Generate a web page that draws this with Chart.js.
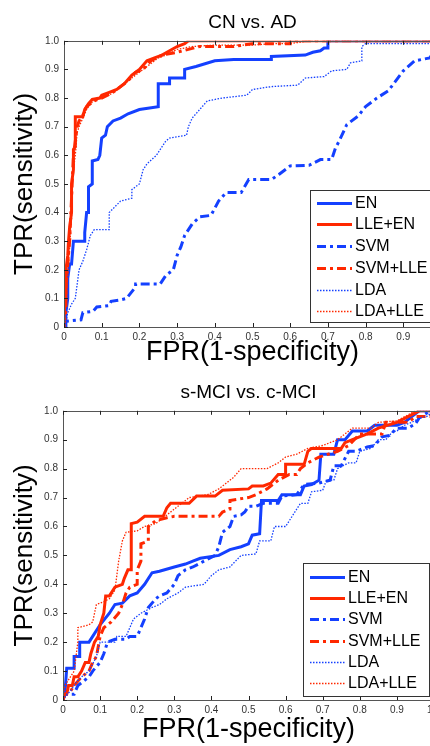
<!DOCTYPE html>
<html>
<head>
<meta charset="utf-8">
<script src="https://cdn.jsdelivr.net/npm/chart.js@4.4.1/dist/chart.umd.min.js"></script>
<style>
  html, body { margin: 0; padding: 0; background: #fff; overflow: hidden; }
  #wrap { position: relative; width: 430px; height: 746px; overflow: hidden; background: #fff; }
  .box { position: absolute; left: 0; }
  #b1 { top: 0; width: 442px; height: 370px; }
  #b2 { top: 370px; width: 435px; height: 376px; }
</style>
</head>
<body>
<div id="wrap">
  <div class="box" id="b1"><canvas id="c1" width="442" height="370"></canvas></div>
  <div class="box" id="b2"><canvas id="c2" width="435" height="376"></canvas></div>
</div>
<script>
// ---- data: ROC points [FPR, TPR] ----
const labels = ['EN', 'LLE+EN', 'SVM', 'SVM+LLE', 'LDA', 'LDA+LLE'];
const xTicks = [0, 0.1, 0.2, 0.3, 0.4, 0.5, 0.6, 0.7, 0.8, 0.9, 1];
const yTicks = [0, 0.1, 0.2, 0.3, 0.4, 0.5, 0.6, 0.7, 0.8, 0.9, 1];

// CN vs. AD
const adEN = [[0,0],[0.005,0],[0.005,0.05],[0.01,0.1],[0.01,0.17],[0.015,0.22],[0.02,0.22],[0.025,0.3],[0.055,0.3],[0.055,0.33],[0.06,0.4],[0.065,0.4],[0.065,0.49],[0.075,0.5],[0.075,0.58],[0.09,0.585],[0.095,0.6],[0.1,0.66],[0.11,0.67],[0.115,0.7],[0.13,0.72],[0.15,0.73],[0.17,0.745],[0.2,0.76],[0.25,0.77],[0.25,0.85],[0.28,0.85],[0.28,0.87],[0.32,0.87],[0.32,0.9],[0.35,0.91],[0.4,0.93],[0.45,0.935],[0.55,0.935],[0.55,0.945],[0.64,0.95],[0.66,0.96],[0.68,0.965],[0.69,0.975],[0.7,0.975],[0.7,1],[1,1]];
const adLLE = [[0,0],[0,0.05],[0.005,0.1],[0.005,0.2],[0.01,0.25],[0.012,0.3],[0.015,0.35],[0.02,0.4],[0.02,0.5],[0.025,0.55],[0.025,0.62],[0.03,0.63],[0.03,0.735],[0.05,0.735],[0.055,0.76],[0.065,0.78],[0.075,0.795],[0.095,0.8],[0.1,0.81],[0.12,0.82],[0.14,0.83],[0.16,0.85],[0.18,0.88],[0.2,0.9],[0.22,0.93],[0.24,0.94],[0.26,0.95],[0.28,0.965],[0.3,0.98],[0.32,0.99],[0.33,1],[1,1]];
const adSVM = [[0,0],[0.005,0.02],[0.045,0.025],[0.05,0.05],[0.077,0.055],[0.087,0.07],[0.12,0.075],[0.125,0.09],[0.15,0.095],[0.166,0.1],[0.19,0.14],[0.19,0.15],[0.255,0.15],[0.27,0.18],[0.29,0.2],[0.3,0.25],[0.31,0.28],[0.32,0.32],[0.34,0.36],[0.36,0.385],[0.39,0.39],[0.41,0.44],[0.43,0.47],[0.47,0.47],[0.49,0.515],[0.55,0.515],[0.57,0.533],[0.6,0.563],[0.65,0.565],[0.68,0.585],[0.71,0.585],[0.72,0.625],[0.73,0.65],[0.75,0.707],[0.78,0.737],[0.8,0.77],[0.83,0.8],[0.86,0.825],[0.88,0.86],[0.9,0.895],[0.93,0.93],[0.97,0.94],[1,1]];
const adSVMLLE = [[0,0],[0.005,0.06],[0.005,0.15],[0.01,0.22],[0.015,0.3],[0.02,0.45],[0.025,0.6],[0.03,0.65],[0.035,0.7],[0.04,0.72],[0.05,0.74],[0.06,0.77],[0.08,0.79],[0.1,0.8],[0.13,0.82],[0.15,0.84],[0.17,0.86],[0.19,0.89],[0.21,0.9],[0.23,0.93],[0.26,0.95],[0.3,0.96],[0.33,0.97],[0.36,0.98],[0.45,0.98],[0.5,0.99],[0.6,0.99],[0.6,1],[1,1]];
const adLDA = [[0,0],[0.005,0.02],[0.01,0.05],[0.02,0.08],[0.03,0.1],[0.035,0.15],[0.04,0.2],[0.05,0.23],[0.06,0.27],[0.07,0.32],[0.08,0.34],[0.12,0.34],[0.12,0.4],[0.15,0.44],[0.18,0.45],[0.18,0.48],[0.2,0.5],[0.21,0.55],[0.22,0.57],[0.245,0.6],[0.27,0.65],[0.28,0.66],[0.325,0.67],[0.33,0.7],[0.34,0.73],[0.36,0.76],[0.38,0.79],[0.42,0.8],[0.485,0.81],[0.5,0.83],[0.55,0.84],[0.62,0.845],[0.64,0.87],[0.69,0.875],[0.71,0.895],[0.75,0.9],[0.76,0.923],[0.79,0.93],[0.79,0.98],[0.8,0.99],[0.98,0.99],[1,1]];
const adLDALLE = [[0,0],[0.005,0.08],[0.01,0.18],[0.015,0.28],[0.02,0.38],[0.02,0.5],[0.03,0.6],[0.035,0.68],[0.04,0.7],[0.05,0.73],[0.06,0.76],[0.07,0.78],[0.09,0.8],[0.12,0.81],[0.15,0.84],[0.18,0.87],[0.2,0.89],[0.23,0.92],[0.25,0.94],[0.27,0.95],[0.3,0.97],[0.34,0.98],[0.4,0.985],[0.5,0.985],[0.55,0.99],[0.6,0.99],[0.65,1],[1,1]];

// s-MCI vs. c-MCI
const mciEN = [[0,0],[0.005,0.02],[0.01,0.11],[0.03,0.11],[0.03,0.15],[0.045,0.15],[0.045,0.2],[0.07,0.2],[0.08,0.22],[0.1,0.26],[0.125,0.3],[0.14,0.33],[0.16,0.335],[0.18,0.36],[0.2,0.37],[0.22,0.4],[0.24,0.44],[0.26,0.445],[0.3,0.46],[0.33,0.47],[0.35,0.48],[0.37,0.49],[0.42,0.5],[0.45,0.52],[0.48,0.53],[0.5,0.54],[0.51,0.57],[0.53,0.575],[0.535,0.69],[0.58,0.69],[0.59,0.71],[0.64,0.71],[0.65,0.74],[0.67,0.745],[0.69,0.76],[0.695,0.85],[0.73,0.85],[0.74,0.9],[0.76,0.9],[0.78,0.93],[0.82,0.93],[0.84,0.95],[0.9,0.95],[0.92,0.96],[0.94,0.98],[0.96,1],[1,1]];
const mciLLE = [[0,0],[0.005,0.02],[0.01,0.02],[0.015,0.05],[0.025,0.05],[0.03,0.08],[0.04,0.08],[0.05,0.1],[0.06,0.13],[0.07,0.13],[0.075,0.16],[0.085,0.2],[0.095,0.22],[0.1,0.26],[0.11,0.3],[0.115,0.36],[0.125,0.36],[0.14,0.39],[0.16,0.4],[0.165,0.42],[0.175,0.45],[0.184,0.45],[0.184,0.61],[0.2,0.615],[0.22,0.635],[0.27,0.635],[0.28,0.665],[0.29,0.68],[0.34,0.68],[0.36,0.705],[0.41,0.705],[0.43,0.725],[0.5,0.73],[0.51,0.74],[0.54,0.74],[0.56,0.75],[0.58,0.78],[0.6,0.78],[0.6,0.815],[0.65,0.815],[0.66,0.86],[0.67,0.87],[0.75,0.87],[0.76,0.89],[0.78,0.9],[0.82,0.92],[0.85,0.94],[0.9,0.96],[0.93,0.98],[0.96,1],[1,1]];
const mciSVM = [[0,0],[0.005,0.02],[0.03,0.02],[0.04,0.05],[0.07,0.08],[0.08,0.1],[0.1,0.13],[0.11,0.16],[0.12,0.2],[0.14,0.21],[0.17,0.21],[0.18,0.22],[0.2,0.22],[0.21,0.25],[0.22,0.28],[0.23,0.32],[0.25,0.35],[0.26,0.36],[0.28,0.37],[0.3,0.4],[0.31,0.43],[0.33,0.45],[0.35,0.46],[0.38,0.48],[0.41,0.5],[0.42,0.53],[0.43,0.58],[0.45,0.6],[0.46,0.635],[0.48,0.64],[0.49,0.65],[0.5,0.67],[0.52,0.67],[0.54,0.68],[0.58,0.68],[0.59,0.705],[0.63,0.71],[0.65,0.745],[0.69,0.75],[0.72,0.76],[0.73,0.81],[0.75,0.81],[0.77,0.86],[0.79,0.86],[0.82,0.875],[0.84,0.88],[0.86,0.91],[0.88,0.915],[0.9,0.94],[0.93,0.94],[0.95,0.955],[0.96,0.975],[0.99,1],[1,1]];
const mciSVMLLE = [[0,0],[0.005,0.02],[0.02,0.03],[0.03,0.05],[0.05,0.08],[0.07,0.1],[0.08,0.13],[0.09,0.15],[0.1,0.22],[0.11,0.25],[0.13,0.27],[0.15,0.3],[0.16,0.33],[0.17,0.37],[0.18,0.39],[0.2,0.4],[0.2,0.45],[0.21,0.48],[0.21,0.54],[0.23,0.55],[0.23,0.6],[0.25,0.62],[0.28,0.63],[0.3,0.635],[0.42,0.635],[0.43,0.65],[0.45,0.66],[0.45,0.69],[0.5,0.7],[0.52,0.71],[0.55,0.73],[0.58,0.76],[0.61,0.78],[0.63,0.78],[0.64,0.8],[0.66,0.82],[0.69,0.84],[0.74,0.86],[0.77,0.88],[0.8,0.92],[0.86,0.92],[0.87,0.96],[0.93,0.96],[0.95,0.98],[0.99,0.98],[1,1]];
const mciLDA = [[0,0],[0.01,0.02],[0.02,0.03],[0.035,0.06],[0.05,0.08],[0.07,0.1],[0.09,0.15],[0.1,0.2],[0.14,0.2],[0.145,0.22],[0.17,0.22],[0.18,0.25],[0.19,0.28],[0.21,0.3],[0.24,0.32],[0.26,0.33],[0.28,0.35],[0.31,0.37],[0.33,0.39],[0.38,0.4],[0.4,0.43],[0.42,0.45],[0.45,0.46],[0.48,0.5],[0.52,0.505],[0.53,0.55],[0.56,0.55],[0.57,0.6],[0.6,0.6],[0.62,0.64],[0.64,0.68],[0.66,0.68],[0.67,0.72],[0.7,0.725],[0.71,0.76],[0.73,0.76],[0.74,0.8],[0.77,0.82],[0.79,0.82],[0.8,0.86],[0.83,0.87],[0.85,0.9],[0.87,0.9],[0.89,0.93],[0.9,0.93],[0.92,0.95],[0.94,0.96],[0.96,0.975],[0.98,0.98],[1,1]];
const mciLDALLE = [[0,0],[0.005,0.05],[0.02,0.08],[0.03,0.1],[0.035,0.15],[0.04,0.2],[0.04,0.25],[0.07,0.26],[0.08,0.27],[0.09,0.33],[0.11,0.34],[0.125,0.35],[0.14,0.38],[0.145,0.43],[0.15,0.48],[0.16,0.55],[0.17,0.58],[0.2,0.585],[0.22,0.6],[0.25,0.61],[0.27,0.63],[0.3,0.66],[0.34,0.7],[0.39,0.71],[0.42,0.73],[0.46,0.77],[0.48,0.8],[0.55,0.8],[0.58,0.82],[0.6,0.84],[0.63,0.85],[0.66,0.87],[0.7,0.88],[0.74,0.9],[0.78,0.94],[0.83,0.94],[0.85,0.96],[0.9,0.965],[0.95,1],[1,1]];

const BLUE = '#1440ff';
const RED = '#ff2800';
const FONT = '"Liberation Sans", Arial, sans-serif';
Chart.defaults.font.family = FONT;

// one style per legend entry, in legend order
const styles = [
  { color: BLUE, width: 3, dash: [] },
  { color: RED, width: 3, dash: [] },
  { color: BLUE, width: 3, dash: [9, 4, 3, 4] },
  { color: RED, width: 3, dash: [9, 4, 3, 4] },
  { color: BLUE, width: 1.3, dash: [1.5, 1.5] },
  { color: RED, width: 1.3, dash: [1.5, 1.5] }
];

function makeSets(curves) {
  return curves.map((pts, i) => ({
    label: labels[i],
    data: pts.map(p => ({ x: p[0], y: p[1] })),
    borderColor: styles[i].color,
    borderWidth: styles[i].width,
    borderDash: styles[i].dash,
    pointRadius: 0,
    tension: 0,
    fill: false,
    order: curves.length - i   // later curves on top, like matlab
  }));
}

// no label overhang padding, plot box is fixed
function noPad(s) {
  s.paddingLeft = 0; s.paddingRight = 0; s.paddingTop = 0; s.paddingBottom = 0;
}

// box around the plot with inward ticks
const frame = {
  id: 'frame',
  afterDatasetsDraw(chart) {
    const { ctx, chartArea: a, scales: { x, y } } = chart;
    ctx.save();
    ctx.strokeStyle = '#555';
    ctx.lineWidth = 1;
    ctx.setLineDash([]);
    ctx.strokeRect(Math.round(a.left) + 0.5, Math.round(a.top) + 0.5, Math.round(a.right - a.left), Math.round(a.bottom - a.top));
    ctx.strokeStyle = '#222';
    ctx.beginPath();
    x.ticks.forEach(t => {
      const px = Math.round(x.getPixelForValue(t.value)) + 0.5;
      ctx.moveTo(px, a.bottom); ctx.lineTo(px, a.bottom - 4);
      ctx.moveTo(px, a.top); ctx.lineTo(px, a.top + 4);
    });
    y.ticks.forEach(t => {
      const py = Math.round(y.getPixelForValue(t.value)) + 0.5;
      ctx.moveTo(a.left, py); ctx.lineTo(a.left + 4, py);
      ctx.moveTo(a.right, py); ctx.lineTo(a.right - 4, py);
    });
    ctx.stroke();
    ctx.restore();
  }
};

// matlab-like boxed legend
const boxLegend = {
  id: 'boxLegend',
  afterDraw(chart, args, o) {
    const ctx = chart.ctx;
    ctx.save();
    ctx.fillStyle = '#fff';
    ctx.fillRect(o.left, o.top, o.width, o.height);
    ctx.strokeStyle = '#333';
    ctx.lineWidth = 1;
    ctx.strokeRect(o.left + 0.5, o.top + 0.5, o.width, o.height);
    chart.data.datasets.forEach((ds, i) => {
      const yy = Math.round(o.top + o.first + i * o.rowH) + 0.5;
      ctx.beginPath();
      ctx.setLineDash(ds.borderDash);
      ctx.lineWidth = ds.borderWidth;
      ctx.strokeStyle = ds.borderColor;
      ctx.moveTo(o.left + 7, yy);
      ctx.lineTo(o.left + 42, yy);
      ctx.stroke();
      ctx.setLineDash([]);
      ctx.fillStyle = '#000';
      ctx.font = '16px ' + FONT;
      ctx.textBaseline = 'middle';
      ctx.fillText(ds.label, o.left + 45, yy);
    });
    ctx.restore();
  }
};

function makeChart(id, title, curves, yw, xh, xPadB, legend) {
  return new Chart(document.getElementById(id), {
    type: 'line',
    data: { datasets: makeSets(curves) },
    options: {
      responsive: false,
      animation: false,
      layout: { padding: { left: 0, right: 1, top: 0, bottom: 0 }, autoPadding: false },
      plugins: {
        legend: { display: false },
        tooltip: { enabled: false },
        title: {
          display: true, text: title, fullSize: false,
          color: '#000', font: { size: 19, weight: 'normal' },
          padding: { top: 11, bottom: 7 }
        },
        boxLegend: legend
      },
      scales: {
        x: {
          type: 'linear', min: 0, max: 1,
          afterBuildTicks: s => { s.ticks = xTicks.map(v => ({ value: v })); },
          afterFit: s => { s.height = xh; noPad(s); },
          grid: { display: false, drawTicks: false }, border: { display: false },
          ticks: { color: '#333', font: { size: 10 }, padding: 4, maxRotation: 0, autoSkip: false },
          title: { display: true, text: 'FPR(1-specificity)', color: '#000', font: { size: 27 }, padding: { top: 0, bottom: xPadB } }
        },
        y: {
          type: 'linear', min: 0, max: 1,
          afterBuildTicks: s => { s.ticks = yTicks.map(v => ({ value: v })); },
          afterFit: s => { s.width = yw; noPad(s); },
          grid: { display: false, drawTicks: false }, border: { display: false },
          ticks: { color: '#333', font: { size: 10 }, padding: 5 },
          title: { display: true, text: 'TPR(sensitivity)', color: '#000', font: { size: 26 }, padding: { top: 9, bottom: 0 } }
        }
      }
    },
    plugins: [frame, boxLegend]
  });
}

makeChart('c1', 'CN vs. AD', [adEN, adLLE, adSVM, adSVMLLE, adLDA, adLDALLE], 64, 43, 1,
  { left: 310, top: 190, width: 135, height: 132, first: 12.7, rowH: 21.7 });
makeChart('c2', 's-MCI vs. c-MCI', [mciEN, mciLLE, mciSVM, mciSVMLLE, mciLDA, mciLDALLE], 63, 46, 0,
  { left: 303, top: 193, width: 126, height: 133, first: 14, rowH: 21.2 });
</script>
</body>
</html>
